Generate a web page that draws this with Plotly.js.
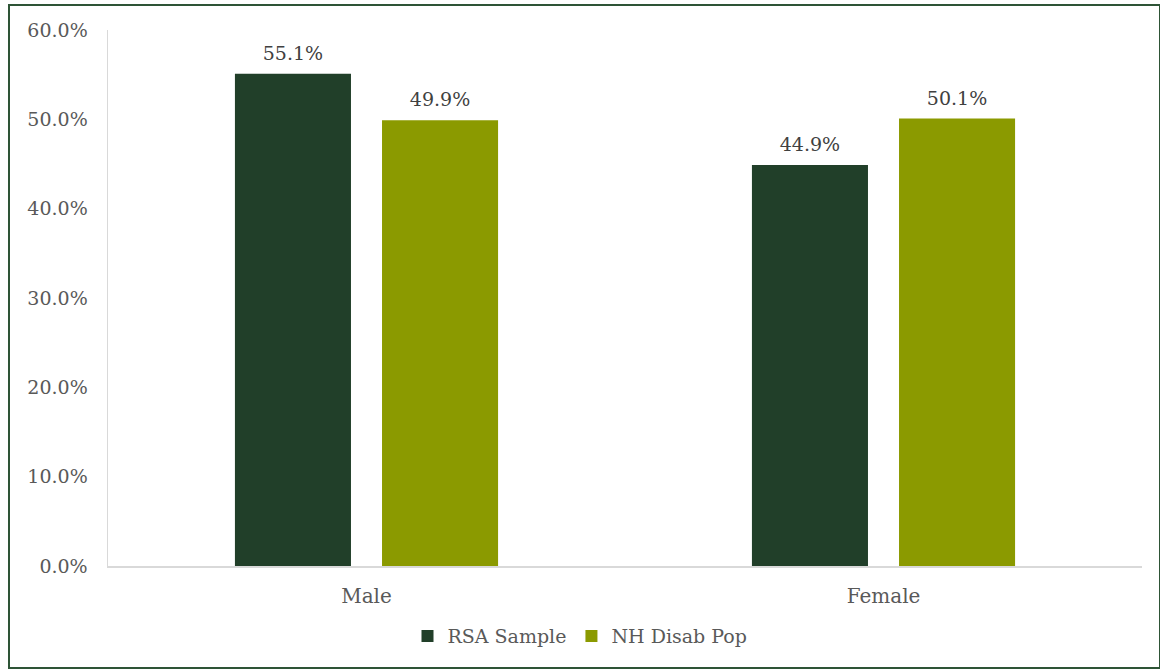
<!DOCTYPE html>
<html><head><meta charset="utf-8">
<script src="https://cdn.plot.ly/plotly-3.0.1.min.js"></script>
<style>
html,body{margin:0;padding:0;background:#fff;}
#wrap{position:relative;width:1160px;height:669px;}
#chart{position:absolute;left:0;top:0;width:1160px;height:669px;}
#frame{position:absolute;left:8px;top:4px;width:1149px;height:661px;border:2px solid #2e5436;pointer-events:none;}
</style></head>
<body>
<div id="wrap"><div id="chart"></div><div id="frame"></div></div>
<script>
const categories = ["Male", "Female"];
const seriesNames = ["RSA Sample", "NH Disab Pop"];
const rsaSample = [55.1, 44.9];
const nhDisabPop = [49.9, 50.1];
const yTicks = [0, 10, 20, 30, 40, 50, 60];

const font = "DejaVu Serif";
const colors = ["#213f29", "#8b9a00"];
const seriesValues = [rsaSample, nhDisabPop];
const BARGAP = 0.431;

const traces = [];
seriesValues.forEach((vals, i) => {
  traces.push({type:"bar", name:seriesNames[i], x:categories, y:vals,
    marker:{color:colors[i]}, offsetgroup:String(i), hoverinfo:"none"});
});
seriesValues.forEach((vals, i) => {
  traces.push({type:"scatter", mode:"markers+text", x:categories, y:vals,
    offsetgroup:String(i), showlegend:false, hoverinfo:"none", cliponaxis:false,
    marker:{size:13, opacity:0, color:colors[i]},
    text:vals.map(v => v.toFixed(1) + "%"), textposition:"top center",
    textfont:{family:font, size:19, color:"#404040"}});
});

const layout = {
  width:1160, height:669,
  margin:{l:108, r:18, t:30, b:103},
  paper_bgcolor:"#fff", plot_bgcolor:"#fff",
  font:{family:font, size:19, color:"#595959"},
  barmode:"group", bargap:BARGAP, bargroupgap:0.211,
  scattermode:"group", scattergap:BARGAP,
  showlegend:true,
  legend:{orientation:"h", xref:"container", x:0.5, xanchor:"center",
          yref:"container", y:0.049, yanchor:"middle",
          font:{family:font, size:19, color:"#595959"}, traceorder:"normal"},
  xaxis:{showline:true, linecolor:"#d9d9d9", linewidth:1.5, showgrid:false,
         ticks:"outside", ticklen:11, tickcolor:"rgba(0,0,0,0)",
         tickfont:{family:font, size:20, color:"#595959"}},
  yaxis:{range:[0,60], tickvals:yTicks, ticktext:yTicks.map(v=>v.toFixed(1)+"%"),
         showline:true, linecolor:"#d9d9d9", linewidth:1.5, showgrid:false, zeroline:false,
         ticks:"outside", ticklen:15, tickcolor:"rgba(0,0,0,0)",
         tickfont:{family:font, size:19, color:"#595959"}}
};
Plotly.newPlot("chart", traces, layout, {displayModeBar:false, staticPlot:true});
</script>
</body></html>
